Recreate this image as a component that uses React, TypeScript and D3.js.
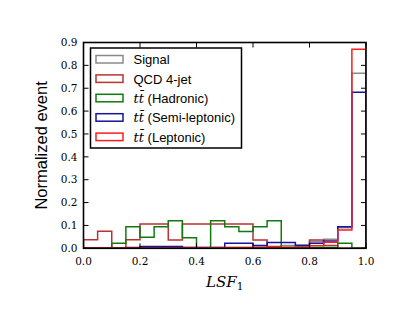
import React from 'react';
import * as d3 from 'd3';

const binWidth = 0.05;
const binStarts = d3.range(20).map((i) => i * binWidth);

const signal = [0.002, 0.002, 0.002, 0.002, 0.003, 0.003, 0.003, 0.003, 0.003, 0.003, 0.004, 0.004, 0.005, 0.006, 0.012, 0.015, 0.03, 0.04, 0.09, 0.765];
const qcd = [0.037, 0.075, 0, 0.037, 0.106, 0.106, 0.036, 0.106, 0.106, 0.106, 0.106, 0.106, 0.036, 0.008, 0.004, 0.004, 0.036, 0.012, 0, 0];
const hadronic = [0, 0, 0.022, 0.094, 0.048, 0.094, 0.12, 0.046, 0, 0.12, 0.094, 0.073, 0.094, 0.12, 0.003, 0.003, 0.003, 0.003, 0.022, 0];
const semiLeptonic = [0, 0, 0, 0.004, 0.008, 0.008, 0.008, 0.004, 0.004, 0.004, 0.022, 0.022, 0.012, 0.025, 0.025, 0.011, 0.022, 0.032, 0.094, 0.682];
const leptonic = [0.001, 0.001, 0.001, 0.001, 0.001, 0.001, 0.001, 0.002, 0.002, 0.002, 0.004, 0.004, 0.004, 0.004, 0.003, 0.004, 0.011, 0.026, 0.08, 0.87];

const seriesNames = ['Signal', 'QCD 4-jet', 'Hadronic', 'Semi-leptonic', 'Leptonic'];
const seriesValues = [signal, qcd, hadronic, semiLeptonic, leptonic];
const seriesColors = ['#8a8a8a', '#b93232', '#107a10', '#1414a0', '#ff1c1c'];

const xTicks = [0, 0.2, 0.4, 0.6, 0.8, 1.0];
const yTicks = [0, 0.1, 0.2, 0.3, 0.4, 0.5, 0.6, 0.7, 0.8, 0.9];

export default function App() {
  const width = 411;
  const height = 327;
  const left = 83.5;
  const right = 366;
  const top = 42.5;
  const bottom = 248.3;

  const x = d3.scaleLinear().domain([0, 1]).range([left, right]);
  const y = d3.scaleLinear().domain([0, 0.9]).range([bottom, top]);

  const line = d3
    .line<[number, number]>()
    .x((d) => x(d[0]))
    .y((d) => y(d[1]));

  const stepPoints = (vals: number[]): [number, number][] => {
    const pts: [number, number][] = [[binStarts[0], 0]];
    vals.forEach((v, i) => {
      pts.push([binStarts[i], v]);
      pts.push([binStarts[i] + binWidth, v]);
    });
    pts.push([binStarts[binStarts.length - 1] + binWidth, 0]);
    return pts;
  };

  const tickLen = 5;
  const serif = "'DejaVu Serif', serif";
  const sans = "'Liberation Sans', Arial, sans-serif";

  const legendX = 90.5;
  const legendY = 48;
  const rowGap = 19.4;

  return (
    <svg
      width={width}
      height={height}
      style={{ position: 'absolute', left: 0, top: 0, background: '#fff' }}
      xmlns="http://www.w3.org/2000/svg"
    >
      <defs>
        <clipPath id="plot-clip">
          <rect x={left} y={top} width={right - left} height={bottom - top} />
        </clipPath>
      </defs>
      <g key="series" clipPath="url(#plot-clip)">
        {seriesValues.map((vals, i) => (
          <path
            key={`series-${i}`}
            d={line(stepPoints(vals)) || ''}
            fill="none"
            stroke={seriesColors[i]}
            strokeWidth={1.5}
          />
        ))}
      </g>
      <g key="ticks" stroke="#000" strokeWidth={1}>
        {xTicks.map((t) => (
          <g key={`xt-${t}`}>
            <line x1={x(t)} x2={x(t)} y1={bottom} y2={bottom - tickLen} />
            <line x1={x(t)} x2={x(t)} y1={top} y2={top + tickLen} />
          </g>
        ))}
        {yTicks.map((t) => (
          <g key={`yt-${t}`}>
            <line x1={left} x2={left + tickLen} y1={y(t)} y2={y(t)} />
            <line x1={right} x2={right - tickLen} y1={y(t)} y2={y(t)} />
          </g>
        ))}
      </g>
      <rect
        x={left}
        y={top}
        width={right - left}
        height={bottom - top}
        fill="none"
        stroke="#000"
        strokeWidth={1.6}
      />
      <g key="x-labels" fontFamily={serif} fontSize={10.5} textAnchor="middle">
        {xTicks.map((t) => (
          <text key={`xl-${t}`} x={x(t)} y={bottom + 17}>
            {t.toFixed(1)}
          </text>
        ))}
      </g>
      <g key="y-labels" fontFamily={serif} fontSize={10.5} textAnchor="end">
        {yTicks.map((t) => (
          <text key={`yl-${t}`} x={left - 6} y={y(t)} dy="0.36em">
            {t.toFixed(1)}
          </text>
        ))}
      </g>
      <text
        x={(left + right) / 2}
        y={287}
        textAnchor="middle"
        fontFamily={serif}
        fontStyle="italic"
        fontSize={15}
      >
        LSF
        <tspan fontStyle="normal" fontSize={10.5} dy={3}>1</tspan>
      </text>
      <text
        transform={`translate(47,${(top + bottom) / 2}) rotate(-90)`}
        textAnchor="middle"
        fontFamily={sans}
        fontSize={16.5}
      >
        Normalized event
      </text>
      <g key="legend">
        <rect
          x={legendX}
          y={legendY}
          width={151}
          height={100}
          fill="#fff"
          stroke="#000"
          strokeWidth={1.5}
        />
        {seriesNames.map((name, i) => {
          const cy = legendY + 11.5 + i * rowGap;
          return (
            <g key={`legend-${i}`}>
              <rect
                x={legendX + 5.5}
                y={cy - 4}
                width={27}
                height={7.5}
                fill="none"
                stroke={seriesColors[i]}
                strokeWidth={1.5}
              />
              <text x={legendX + 43} y={cy} dy="0.36em" fontFamily={sans} fontSize={13}>
                {i >= 2 ? (
                  <>
                    <tspan fontFamily={serif} fontStyle="italic">t{'t\u0304'}</tspan>
                    {` (${name})`}
                  </>
                ) : (
                  name
                )}
              </text>
            </g>
          );
        })}
      </g>
    </svg>
  );
}
